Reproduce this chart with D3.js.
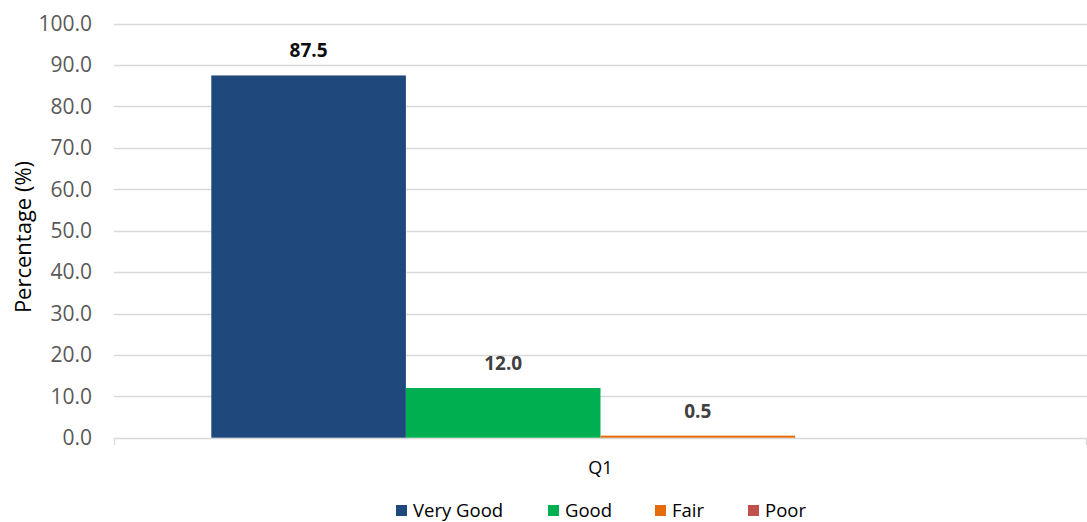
<!DOCTYPE html>
<html>
<head>
<meta charset="utf-8">
<script src="https://cdn.jsdelivr.net/npm/d3@7"></script>
<style>
body { margin: 0; background: #fff; }
text { font-family: "Open Sans", sans-serif; }
</style>
</head>
<body>
<div id="chart"></div>
<script>
var categories = ["Q1"];
var series = ["Very Good", "Good", "Fair", "Poor"];
var values = [87.5, 12.0, 0.5, 0];
var colors = ["#1f497d", "#00b050", "#e46c0a", "#c0504d"];
var yTicks = [0, 10, 20, 30, 40, 50, 60, 70, 80, 90, 100];

var W = 1087, H = 522;
var svg = d3.select("#chart").append("svg").attr("width", W).attr("height", H);

var plotLeft = 114, plotRight = 1087, plotTop = 23.7, plotBottom = 437.7;

var y = d3.scaleLinear().domain([0, 100]).range([plotBottom, plotTop]);
var x0 = d3.scaleBand().domain(categories).range([plotLeft, plotRight]).paddingInner(0).paddingOuter(0.125);
var x1 = d3.scaleBand().domain(series).range([0, x0.bandwidth()]).padding(0);

// gridlines
svg.selectAll("line.grid").data(yTicks).enter().append("line")
  .attr("x1", plotLeft).attr("x2", plotRight)
  .attr("y1", function(d){ return Math.round(y(d)) + 0.5; })
  .attr("y2", function(d){ return Math.round(y(d)) + 0.5; })
  .attr("stroke", "#d9d9d9").attr("stroke-width", 1.3);

// tick marks on category axis
svg.selectAll("line.ctick").data([plotLeft, plotRight - 1]).enter().append("line")
  .attr("x1", function(d){ return d + 0.5; }).attr("x2", function(d){ return d + 0.5; })
  .attr("y1", Math.round(plotBottom)).attr("y2", Math.round(plotBottom) + 7)
  .attr("stroke", "#d9d9d9").attr("stroke-width", 1.3);

// y labels
svg.selectAll("text.ytick").data(yTicks).enter().append("text")
  .attr("x", 92).attr("y", function(d){ return y(d); })
  .attr("dy", "0.35em").attr("text-anchor", "end")
  .attr("font-size", 21).attr("fill", "#595959")
  .text(function(d){ return d3.format(".1f")(d); });

svg.append("text")
  .attr("transform", "translate(31,237) rotate(-90)")
  .attr("text-anchor", "middle").attr("font-size", 22).attr("fill", "#000")
  .text("Percentage (%)");

var g = svg.append("g").attr("transform", "translate(" + x0("Q1") + ",0)");
g.selectAll("rect").data(values).enter().append("rect")
  .attr("x", function(d, i){ return x1(series[i]); })
  .attr("y", function(d){ return y(d); })
  .attr("width", x1.bandwidth())
  .attr("height", function(d){ return plotBottom - y(d); })
  .attr("fill", function(d, i){ return colors[i]; });

g.selectAll("text.lbl").data(values).enter().filter(function(d){ return d > 0; })
  .append("text")
  .attr("x", function(d, i){ return x1(series[i]) + x1.bandwidth() / 2; })
  .attr("y", function(d){ return y(d) - 18; })
  .attr("text-anchor", "middle").attr("font-size", 19).attr("font-weight", "bold")
  .attr("fill", function(d, i){ return i === 0 ? "#0d0d0d" : "#404040"; })
  .text(function(d){ return d3.format(".1f")(d); });

svg.append("text").attr("x", x0("Q1") + x0.bandwidth() / 2).attr("y", 474)
  .attr("text-anchor", "middle").attr("font-size", 18).attr("fill", "#000").text("Q1");

// legend
var legendX = [396, 548, 655, 748];
var lg = svg.selectAll("g.leg").data(series).enter().append("g")
  .attr("transform", function(d, i){ return "translate(" + legendX[i] + ",505)"; });
lg.append("rect").attr("width", 11).attr("height", 11).attr("fill", function(d, i){ return colors[i]; });
lg.append("text").attr("x", 17).attr("y", 6).attr("dy", "0.35em")
  .attr("font-size", 18.5).attr("fill", "#000").text(function(d){ return d; });
</script>
</body>
</html>
